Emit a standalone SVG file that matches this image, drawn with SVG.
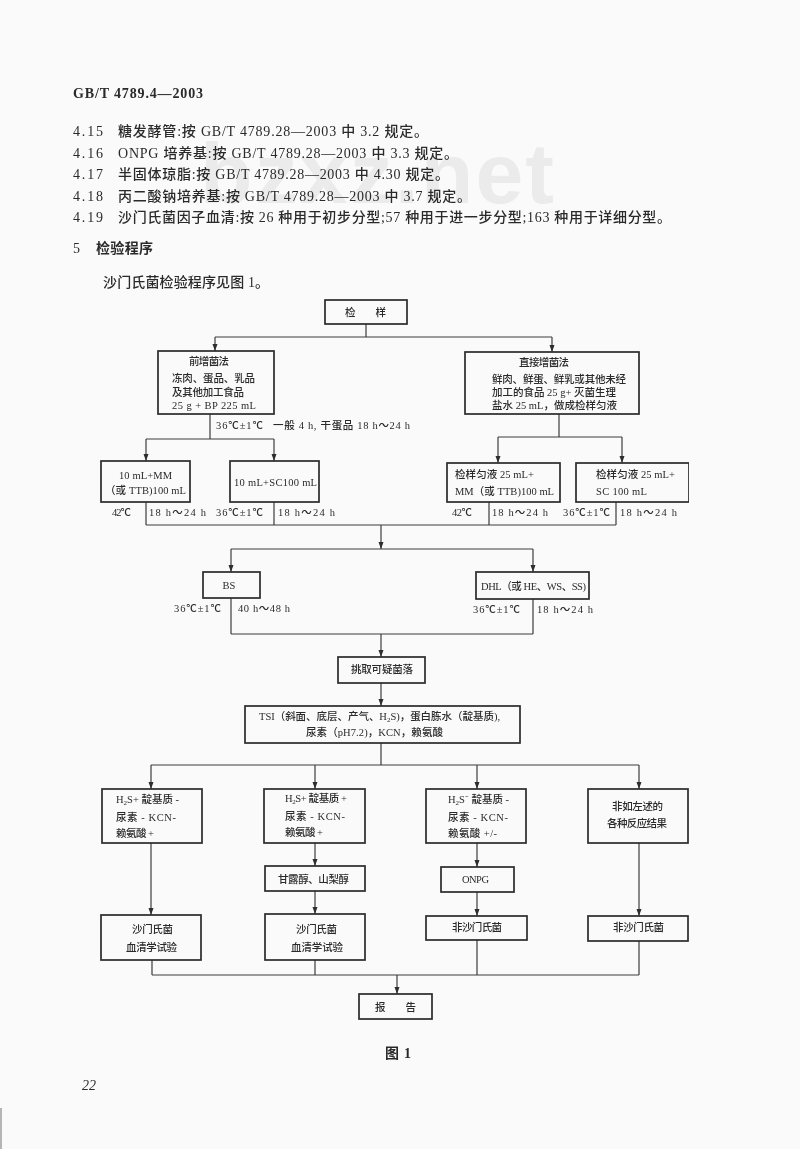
<svg xmlns="http://www.w3.org/2000/svg" width="800" height="1149" viewBox="0 0 800 1149">
<defs>
<marker id="arr" markerUnits="userSpaceOnUse" markerWidth="8" markerHeight="6" refX="7" refY="2.5" orient="auto"><path d="M0 0L7 2.5L0 5Z" fill="#2e2e2e"/></marker>
<filter id="soft" x="0" y="0" width="100%" height="100%"><feGaussianBlur stdDeviation="0.4"/></filter>
</defs>
<style>
text{font-family:"Liberation Serif","Noto Sans CJK SC",serif;fill:#2a2a2a;font-size:10.5px;font-weight:500}
.b rect{fill:none;stroke:#2a2a2a;stroke-width:1.7}
.c{fill:none;stroke:#3c3c3c;stroke-width:1.2}
.a{marker-end:url(#arr)}
.m{text-anchor:middle}
text.p{font-size:14px}
text.h{font-size:14px;font-weight:700}
text.wm{font-family:"Liberation Sans",sans-serif;font-weight:700;font-size:86px;fill:#ebebeb}
</style>
<rect width="800" height="1149" fill="#fafafa"/>
<rect x="0" y="1108" width="2" height="41" fill="#b5b5b5"/>
<g filter="url(#soft)">
<text class="wm" x="200" y="203" textLength="354">bzxz.net</text>
<g id="page-text">
<text class="h" x="73" y="98" textLength="130">GB/T 4789.4—2003</text>
<text class="p" x="73" y="136" textLength="30">4.15</text><text class="p" x="118" y="136" textLength="310">糖发酵管:按 GB/T 4789.28—2003 中 3.2 规定。</text>
<text class="p" x="73" y="158" textLength="30">4.16</text><text class="p" x="118" y="158" textLength="340">ONPG 培养基:按 GB/T 4789.28—2003 中 3.3 规定。</text>
<text class="p" x="73" y="179" textLength="30">4.17</text><text class="p" x="118" y="179" textLength="331">半固体琼脂:按 GB/T 4789.28—2003 中 4.30 规定。</text>
<text class="p" x="73" y="201" textLength="30">4.18</text><text class="p" x="118" y="201" textLength="353">丙二酸钠培养基:按 GB/T 4789.28—2003 中 3.7 规定。</text>
<text class="p" x="73" y="222" textLength="30">4.19</text><text class="p" x="118" y="222" textLength="553">沙门氏菌因子血清:按 26 种用于初步分型;57 种用于进一步分型;163 种用于详细分型。</text>
<text class="p" x="73" y="253">5</text><text class="h" x="96" y="253" textLength="57">检验程序</text>
<text class="p" x="103" y="287" textLength="166">沙门氏菌检验程序见图 1。</text>
</g>
<g id="connectors">
<path class="c" d="M366 324V337M215 337H552"/>
<path class="c a" d="M215 337V351"/><path class="c a" d="M552 337V352"/>
<path class="c" d="M210 414V439M146 439H274"/>
<path class="c a" d="M146 439V461"/><path class="c a" d="M274 439V461"/>
<path class="c" d="M559 414V437M498 437H622"/>
<path class="c a" d="M498 437V463"/><path class="c a" d="M622 437V463"/>
<path class="c" d="M146 502V525M274 502V525M489 502V525M616 502V525M146 525H616"/>
<path class="c a" d="M381 525V549"/>
<path class="c" d="M231 549H533"/>
<path class="c a" d="M231 549V572"/><path class="c a" d="M533 549V572"/>
<path class="c" d="M231 598V634M533 599V634M231 634H533"/>
<path class="c a" d="M381 634V657"/>
<path class="c a" d="M381 683V706"/>
<path class="c" d="M381 743V765M151 765H639"/>
<path class="c a" d="M151 765V789"/><path class="c a" d="M315 765V789"/><path class="c a" d="M477 765V789"/><path class="c a" d="M639 765V789"/>
<path class="c a" d="M151 843V915"/>
<path class="c a" d="M315 843V866"/><path class="c a" d="M315 891V914"/>
<path class="c a" d="M477 843V867"/><path class="c a" d="M477 892V916"/>
<path class="c a" d="M639 843V916"/>
<path class="c" d="M152 960V975M315 960V975M477 940V975M639 941V975M152 975H639"/>
<path class="c a" d="M397 975V994"/>
</g>
<g id="n-sample" class="b"><rect x="325" y="300" width="82" height="24"/><text x="345" y="316" textLength="41">检　　样</text></g>
<g id="n-pre" class="b"><rect x="158" y="351" width="116" height="63"/><text x="189" y="365" textLength="40">前增菌法</text><text x="172" y="382" textLength="83">冻肉、蛋品、乳品</text><text x="172" y="396" textLength="72">及其他加工食品</text><text x="172" y="409" textLength="84">25 g + BP 225 mL</text></g>
<g id="n-direct" class="b"><rect x="465" y="352" width="174" height="62"/><text x="519" y="366" textLength="50">直接增菌法</text><text x="492" y="383" textLength="134">鲜肉、鲜蛋、鲜乳或其他未经</text><text x="492" y="396" textLength="124">加工的食品 25 g+ 灭菌生理</text><text x="492" y="409" textLength="125">盐水 25 mL，做成检样匀液</text></g>
<g id="n-mm1" class="b"><rect x="101" y="461" width="89" height="41"/><text x="119" y="479" textLength="53">10 mL+MM</text><text x="105" y="494" textLength="81">（或 TTB)100 mL</text></g>
<g id="n-sc1" class="b"><rect x="230" y="461" width="89" height="41"/><text x="234" y="486" textLength="83">10 mL+SC100 mL</text></g>
<g id="n-mm2" class="b"><rect x="447" y="463" width="113" height="39"/><text x="455" y="478" textLength="79">检样匀液 25 mL+</text><text x="455" y="495" textLength="99">MM（或 TTB)100 mL</text></g>
<g id="n-sc2" class="b"><rect x="576" y="463" width="113" height="39"/><text x="596" y="478" textLength="79">检样匀液 25 mL+</text><text x="596" y="495" textLength="51">SC 100 mL</text></g>
<g id="edge-labels">
<text x="216" y="429" textLength="47">36℃±1℃</text><text x="273" y="429" textLength="137">一般 4 h, 干蛋品 18 h～24 h</text>
<text x="112" y="516" textLength="19">42℃</text><text x="149" y="516" textLength="57">18 h～24 h</text><text x="216" y="516" textLength="47">36℃±1℃</text><text x="278" y="516" textLength="57">18 h～24 h</text>
<text x="452" y="516" textLength="20">42℃</text><text x="492" y="516" textLength="56">18 h～24 h</text><text x="563" y="516" textLength="47">36℃±1℃</text><text x="620" y="516" textLength="57">18 h～24 h</text>
<text x="174" y="612" textLength="47">36℃±1℃</text><text x="238" y="612" textLength="52">40 h～48 h</text>
<text x="473" y="613" textLength="47">36℃±1℃</text><text x="537" y="613" textLength="56">18 h～24 h</text>
</g>
<g id="n-bs" class="b"><rect x="203" y="572" width="57" height="26"/><text class="m" x="229" y="589">BS</text></g>
<g id="n-dhl" class="b"><rect x="476" y="572" width="113" height="27"/><text x="481" y="590" textLength="105">DHL（或 HE、WS、SS)</text></g>
<g id="n-pick" class="b"><rect x="338" y="657" width="87" height="26"/><text x="351" y="673" textLength="62">挑取可疑菌落</text></g>
<g id="n-tsi" class="b"><rect x="245" y="706" width="275" height="37"/><text x="259" y="720" textLength="241">TSI（斜面、底层、产气、H<tspan font-size="7" dy="2">2</tspan><tspan dy="-2">S)，蛋白胨水（靛基质),</tspan></text><text x="306" y="736" textLength="137">尿素（pH7.2)，KCN，赖氨酸</text></g>
<g id="n-r1" class="b"><rect x="102" y="789" width="100" height="54"/><text x="116" y="803" textLength="63">H<tspan font-size="7" dy="2">2</tspan><tspan dy="-2">S+ 靛基质 -</tspan></text><text x="116" y="821" textLength="60">尿素 - KCN-</text><text x="116" y="837" textLength="38">赖氨酸 +</text></g>
<g id="n-r2" class="b"><rect x="264" y="789" width="101" height="54"/><text x="285" y="802" textLength="62">H<tspan font-size="7" dy="2">2</tspan><tspan dy="-2">S+ 靛基质 +</tspan></text><text x="285" y="820" textLength="60">尿素 - KCN-</text><text x="285" y="836" textLength="38">赖氨酸 +</text></g>
<g id="n-r3" class="b"><rect x="426" y="789" width="100" height="54"/><text x="448" y="803" textLength="61">H<tspan font-size="7" dy="2">2</tspan><tspan dy="-2">S⁻ 靛基质 -</tspan></text><text x="448" y="821" textLength="60">尿素 - KCN-</text><text x="448" y="837" textLength="49">赖氨酸 +/-</text></g>
<g id="n-r4" class="b"><rect x="588" y="789" width="100" height="54"/><text x="612" y="810" textLength="51">非如左述的</text><text x="607" y="827" textLength="60">各种反应结果</text></g>
<g id="n-man" class="b"><rect x="265" y="866" width="100" height="25"/><text x="278" y="883" textLength="71">甘露醇、山梨醇</text></g>
<g id="n-onpg" class="b"><rect x="441" y="867" width="73" height="25"/><text x="462" y="883" textLength="27">ONPG</text></g>
<g id="n-s1" class="b"><rect x="101" y="915" width="100" height="45"/><text x="132" y="933" textLength="41">沙门氏菌</text><text x="126" y="951" textLength="51">血清学试验</text></g>
<g id="n-s2" class="b"><rect x="265" y="914" width="100" height="46"/><text x="296" y="933" textLength="41">沙门氏菌</text><text x="291" y="951" textLength="52">血清学试验</text></g>
<g id="n-non1" class="b"><rect x="426" y="916" width="101" height="24"/><text x="452" y="931" textLength="50">非沙门氏菌</text></g>
<g id="n-non2" class="b"><rect x="588" y="916" width="100" height="25"/><text x="613" y="931" textLength="51">非沙门氏菌</text></g>
<g id="n-report" class="b"><rect x="359" y="994" width="73" height="25"/><text x="375" y="1011" textLength="41">报　　告</text></g>
<text class="h" x="385" y="1058" textLength="26">图 1</text>
<text class="p" x="82" y="1090" font-style="italic">22</text>
</g>
</svg>
